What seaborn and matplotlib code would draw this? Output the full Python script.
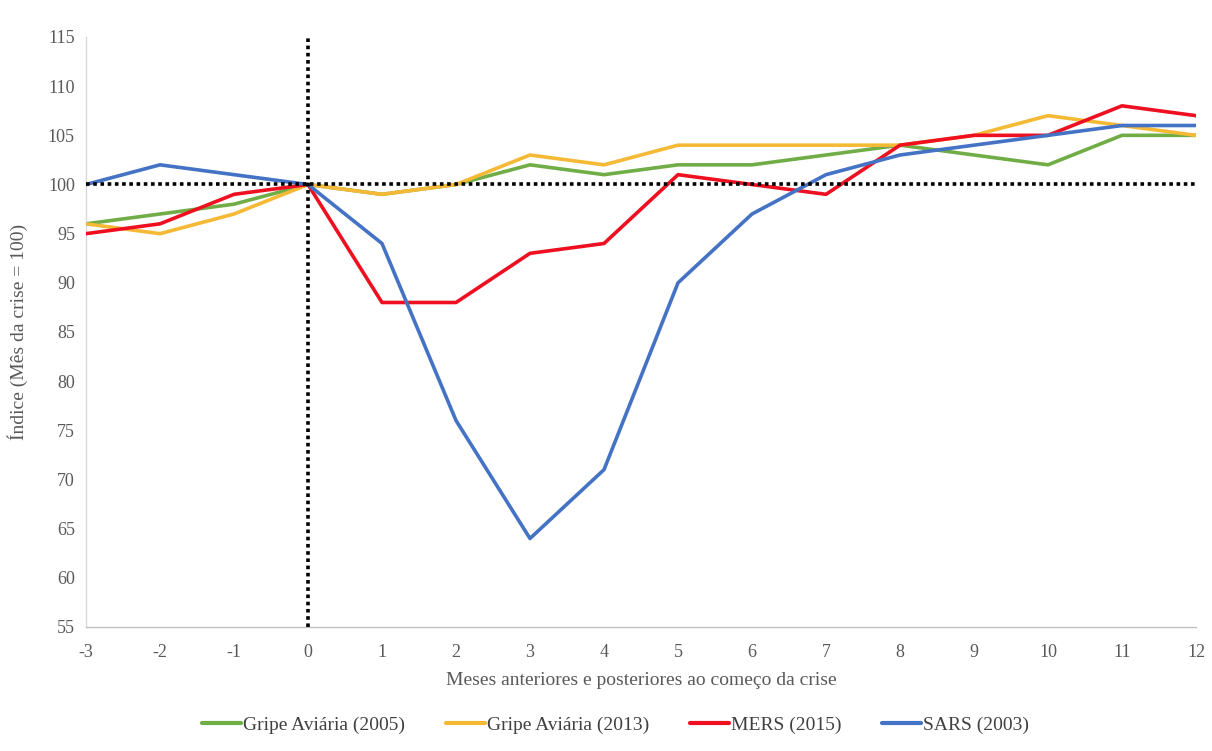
import numpy as np
import pandas as pd
import matplotlib
matplotlib.use("Agg")
import matplotlib.pyplot as plt
import seaborn as sns

# Months relative to the start of each crisis
months = list(range(-3, 13))

gripe_2005 = [96, 97, 98, 100, 99, 100, 102, 101, 102, 102, 103, 104, 103, 102, 105, 105]
gripe_2013 = [96, 95, 97, 100, 99, 100, 103, 102, 104, 104, 104, 104, 105, 107, 106, 105]
mers_2015 = [95, 96, 99, 100, 88, 88, 93, 94, 101, 100, 99, 104, 105, 105, 108, 107]
sars_2003 = [100, 102, 101, 100, 94, 76, 64, 71, 90, 97, 101, 103, 104, 105, 106, 106]

series_names = ["Gripe Aviária (2005)", "Gripe Aviária (2013)", "MERS (2015)", "SARS (2003)"]
series_values = [gripe_2005, gripe_2013, mers_2015, sars_2003]
colors = ["#70AD47", "#F5B935", "#EE1020", "#4472C4"]

df = pd.concat(
    [pd.DataFrame({"mes": months, "indice": vals, "serie": name})
     for name, vals in zip(series_names, series_values)],
    ignore_index=True,
)

sns.set_theme(style="white")
plt.rcParams["font.family"] = ["Liberation Serif", "DejaVu Serif"]
plt.rcParams["axes.unicode_minus"] = False

fig = plt.figure(figsize=(12.12, 7.51), dpi=100)
ax = fig.add_axes([86 / 1212, 1 - 627 / 751, (1196 - 86) / 1212, (627 - 37) / 751])

sns.lineplot(data=df, x="mes", y="indice", hue="serie", hue_order=series_names,
             palette=colors, linewidth=2.6, ax=ax, legend=False, zorder=3)

# Reference lines: crisis month and index = 100
ax.axvline(0, color="black", linestyle=(0, (1, 1)), linewidth=2.6, zorder=4)
ax.axhline(100, color="black", linestyle=(0, (1, 1)), linewidth=2.6, zorder=4)

ax.set_xlim(-3, 12)
ax.set_ylim(55, 115)
ax.set_xticks(months)
ax.set_yticks(range(55, 116, 5))
ax.tick_params(axis="x", labelsize=13, colors="#595959", length=0, pad=12)
ax.tick_params(axis="y", labelsize=13, colors="#595959", length=0, pad=8)

for side in ["top", "right"]:
    ax.spines[side].set_visible(False)
ax.spines["left"].set_color("#D9D9D9")
ax.spines["bottom"].set_color("#BFBFBF")
ax.spines["left"].set_linewidth(1)
ax.spines["bottom"].set_linewidth(1)

ax.set_xlabel("Meses anteriores e posteriores ao começo da crise", fontsize=14,
              color="#595959", labelpad=8)
ax.set_ylabel("Índice (Mês da crise = 100)", fontsize=14, color="#595959", labelpad=14)

handles = [plt.Line2D([0], [0], color=c, linewidth=3) for c in colors]
fig.legend(handles, series_names, loc="center", bbox_to_anchor=(0.508, 0.035), ncol=4,
           frameon=False, fontsize=14, handlelength=2.0, handletextpad=0.1,
           columnspacing=2.1, labelcolor="#404040")

fig.savefig("out.png", dpi=100)
